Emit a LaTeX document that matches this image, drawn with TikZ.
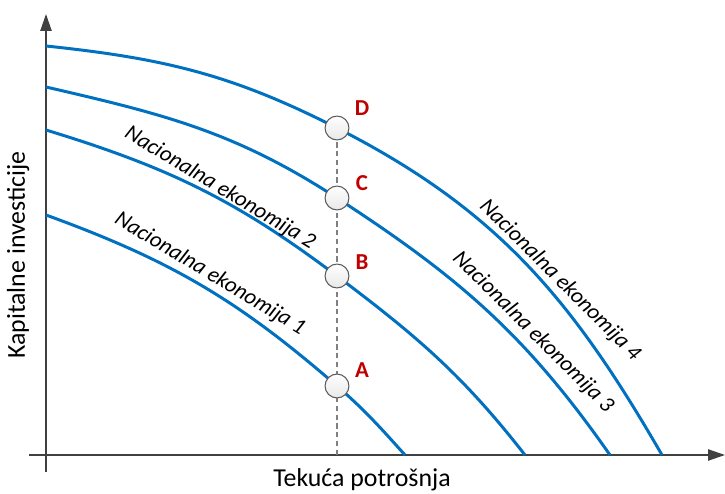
\documentclass[tikz,border=0pt]{standalone}
\usepackage{fontspec}
\setmainfont{Carlito}
\usetikzlibrary{arrows.meta}
\definecolor{curveblue}{HTML}{0070C0}
\definecolor{letterred}{HTML}{C00000}
\definecolor{axisgray}{HTML}{404040}
\begin{document}
\begin{tikzpicture}[x=0.02cm, y=0.02cm,
    curve/.style={draw=curveblue, line width=1.7pt},
    point/.style={circle, draw=gray!70!black, line width=0.6pt,
      top color=white, bottom color=gray!18, minimum size=13.6pt,
      inner sep=0pt},
    letter/.style={text=letterred, font=\fontsize{13}{15}\selectfont\bfseries},
    economy/.style={font=\fontsize{12.7}{15}\selectfont\itshape}]
    \useasboundingbox (0,0) rectangle (725,494);
    % axes
    \begin{scope}[draw=axisgray, line width=0.8pt,
        -{Triangle[length=9.6pt, width=6.4pt]}]
      \coordinate (o) at (46,39);
      \draw (46,22) to (46,480); \draw (29,39) to (725,39);
    \end{scope}
    \node [font=\fontsize{14.7}{17}\selectfont] (xl) at (362,14)
    {Tekuća potrošnja}; \node [rotate=90,
    font=\fontsize{14.7}{17}\selectfont] (yl) at (18,239) {Kapitalne
      investicije};
    % curves
    \coordinate (pA) at (337,108); \coordinate (pB) at (337,218);
    \coordinate (pC) at (337,296); \coordinate (pD) at (337,366);
    \draw [gray, line width=0.85pt, dash pattern=on 3pt off 2pt]
    (337,39) to (pD);
    \begin{scope}[every path/.style={curve}]
      \draw (46,279) to[out=-20, in=139] (pA) to[out=-41, in=132]
      (405,39); \draw (46,364) to[out=-17, in=143] (pB) to[out=-37,
      in=128] (525,39); \draw (46,407) to[out=-13, in=147] (pC)
      to[out=-33, in=125] (610,39); \draw (46,448) to[out=-6, in=153]
      (pD) to[out=-27, in=120] (662,39);
    \end{scope}
    % points
    \begin{scope}[every node/.style={point}]
      \node (A) at (pA) {}; \node (B) at (pB) {}; \node (C) at (pC)
      {}; \node (D) at (pD) {};
    \end{scope}
    \begin{scope}[every node/.style={letter}]
      \node (a) at (362,124) {A}; \node (b) at (362,232) {B}; \node
      (c) at (362,311) {C}; \node (d) at (362,386) {D};
    \end{scope}
    % labels
    \begin{scope}[every node/.style={economy}]
      \node [rotate=-31] (e1) at (210,220) {Nacionalna ekonomija 1};
      \node [rotate=-31] (e2) at (220,306) {Nacionalna ekonomija 2};
      \node [rotate=-45] (e3) at (533,162) {Nacionalna ekonomija 3};
      \node [rotate=-45] (e4) at (560,214) {Nacionalna ekonomija 4};
    \end{scope}
  \end{tikzpicture}
\end{document}
